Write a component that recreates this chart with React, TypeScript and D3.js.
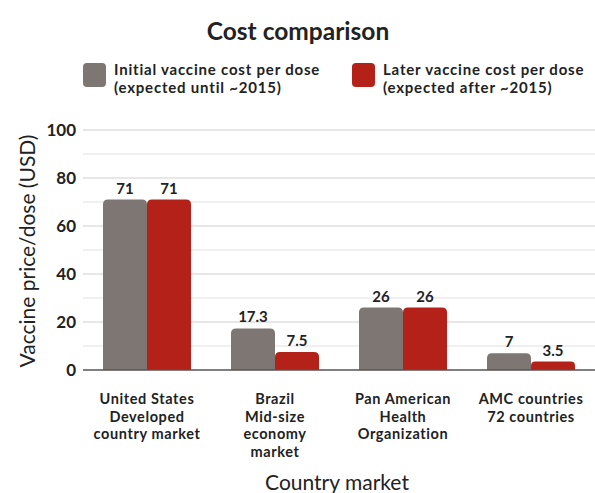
import React from 'react'
import * as d3 from 'd3'

const width = 595
const height = 493
const font = 'Lato, "Open Sans", sans-serif'

const categories = [
  ['United States', 'Developed', 'country market'],
  ['Brazil', 'Mid-size', 'economy', 'market'],
  ['Pan American', 'Health', 'Organization'],
  ['AMC countries', '72 countries'],
]
const seriesNames = ['initial', 'later']
const initialCost = [71, 17.3, 26, 7]
const laterCost = [71, 7.5, 26, 3.5]
const valueLabels = [['71', '71'], ['17.3', '7.5'], ['26', '26'], ['7', '3.5']]
const legendLabels = [
  ['Initial vaccine cost per dose', '(expected until ~2015)'],
  ['Later vaccine cost per dose', '(expected after ~2015)'],
]
const yTicks = [0, 20, 40, 60, 80, 100]
const colors = ['#7e7672', '#b32118']

export default function App() {
  const x0 = d3.scaleBand<number>()
    .domain(d3.range(categories.length))
    .range([83, 595])
    .paddingInner(0.3125)
    .paddingOuter(0.15625)
  const x1 = d3.scaleBand<string>()
    .domain(seriesNames)
    .range([0, x0.bandwidth()])
  const y = d3.scaleLinear().domain([0, 100]).range([370, 130])
  const minor = d3.range(10, 100, 20)
  const values = [initialCost, laterCost]

  // rounded top corners only
  const barPath = (x: number, w: number, v: number) => {
    const top = y(v)
    const r = Math.min(5, (y(0) - top) / 2)
    return `M${x},${y(0)}V${top + r}Q${x},${top} ${x + r},${top}H${x + w - r}Q${x + w},${top} ${x + w},${top + r}V${y(0)}Z`
  }

  return (
    <svg width={width} height={height} style={{ display: 'block', position: 'absolute', left: 0, top: 0 }} fontFamily={font}>
      <rect width={width} height={height} fill='#fff' />
      <text x={298} y={40} textAnchor='middle' fontSize={24.5} fontWeight={700} fill='#222'>Cost comparison</text>

      {legendLabels.map((lines, i) => {
        const lx = i === 0 ? 83 : 352
        return (
          <g key={i}>
            <rect x={lx} y={63} width={23} height={24} rx={4} fill={colors[i]} />
            {lines.map((t, j) => (
              <text key={j} x={lx + 31} y={75 + j * 18} fontSize={15} fontWeight={700} letterSpacing={0.8} fill='#222'>{t}</text>
            ))}
          </g>
        )
      })}

      {minor.map(t => (
        <line key={'m' + t} x1={83} x2={595} y1={y(t)} y2={y(t)} stroke='#e2e2e2' strokeWidth={1.2} />
      ))}
      {yTicks.filter(t => t > 0).map(t => (
        <line key={'g' + t} x1={83} x2={595} y1={y(t)} y2={y(t)} stroke='#cfcfcf' strokeWidth={1.2} />
      ))}
      {yTicks.map(t => (
        <text key={'t' + t} x={76} y={y(t) + 6} textAnchor='end' fontSize={17} fontWeight={700} fill='#222'>{t}</text>
      ))}

      <text transform={`translate(35,251) rotate(-90)`} textAnchor='middle' fontSize={21} fill='#222'>Vaccine price/dose (USD)</text>

      {categories.map((_, i) => (
        <g key={i} transform={`translate(${x0(i)},0)`}>
          {seriesNames.map((s, k) => (
            <g key={s}>
              <path d={barPath(x1(s)!, x1.bandwidth(), values[k][i])} fill={colors[k]} />
              <text x={x1(s)! + x1.bandwidth() / 2} y={y(values[k][i]) - 6} textAnchor='middle' fontSize={15} fontWeight={700} fill='#222'>{valueLabels[i][k]}</text>
            </g>
          ))}
        </g>
      ))}

      <line x1={83} x2={595} y1={y(0)} y2={y(0)} stroke='#555' strokeWidth={1.5} />

      {categories.map((lines, i) => (
        <text key={'c' + i} x={x0(i)! + x0.bandwidth() / 2} textAnchor='middle' fontSize={14.5} fontWeight={700} letterSpacing={0.6} fill='#222'>
          {lines.map((t, j) => (
            <tspan key={j} x={x0(i)! + x0.bandwidth() / 2} y={404 + j * 17.5}>{t}</tspan>
          ))}
        </text>
      ))}

      <text x={337} y={490} textAnchor='middle' fontSize={21} fill='#222'>Country market</text>
    </svg>
  )
}
